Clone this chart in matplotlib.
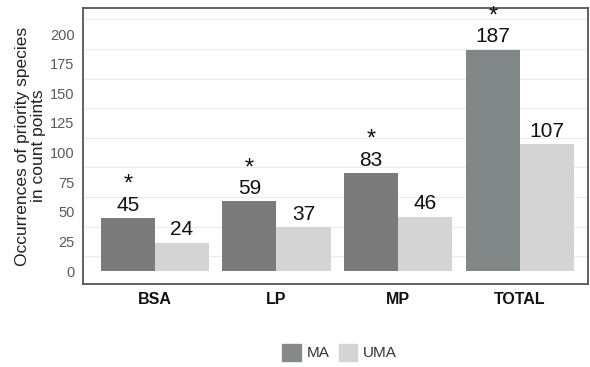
import matplotlib
matplotlib.use("Agg")
import matplotlib.pyplot as plt
from matplotlib.patches import Patch
import numpy as np

plt.rcParams['font.family'] = ['Liberation Sans', 'DejaVu Sans']

# data
groups = ['BSA', 'LP', 'MP', 'TOTAL']
ma = [45, 59, 83, 187]
uma = [24, 37, 46, 107]
signif = [True, True, True, True]   # asterisk over MA bar

ma_colors = ['#7b7b7b', '#7b7b7b', '#7b7b7b', '#808786']
uma_color = '#d4d4d4'

fig = plt.figure(figsize=(5.9, 3.67), dpi=100)
ax = fig.add_axes([0.1407, 0.226, 0.8559, 0.752])

x = np.arange(len(groups))
w = 0.445
ax.bar(x - w/2, ma, width=w, color=ma_colors, zorder=2)
ax.bar(x + w/2, uma, width=w, color=uma_color, zorder=2)

# value labels + asterisks
for i in range(len(groups)):
    ax.text(x[i] - w/2, ma[i] + 6, str(ma[i]), ha='center', va='baseline',
            fontsize=15, color='#111111')
    if signif[i]:
        ax.text(x[i] - w/2, ma[i] + 18.5, '*', ha='center', va='bottom',
                fontsize=17, color='#111111')
    ax.text(x[i] + w/2, uma[i] + 6, str(uma[i]), ha='center', va='baseline',
            fontsize=15, color='#111111')

ax.set_xlim(-0.59, 3.56)
ax.set_ylim(-11, 222)
ax.set_yticks(np.arange(0, 201, 25))
ax.set_yticks(np.arange(12.5, 220, 25), minor=True)
ax.yaxis.grid(True, which='minor', color='#ebebeb', linewidth=0.8, zorder=0)
ax.tick_params(axis='y', which='both', length=0, labelsize=10.5, labelcolor='#5a5a5a', pad=6)
ax.set_xticks(x)
ax.set_xticklabels(groups, fontsize=11.5, fontweight='bold', color='#111111')
ax.tick_params(axis='x', length=0, pad=6)

for s in ax.spines.values():
    s.set_color('#555555')
    s.set_linewidth(1.3)

ax.set_ylabel('Occurrences of priority species\nin count points', fontsize=12.5,
              color='#222222', linespacing=1.1, labelpad=3)

handles = [Patch(color='#858a89', label='MA'), Patch(color=uma_color, label='UMA')]
fig.legend(handles=handles, loc='center', bbox_to_anchor=(0.576, 0.04), ncol=2,
           frameon=False, fontsize=11, handlelength=1.2, handleheight=1.3,
           handletextpad=0.4, columnspacing=0.6, labelcolor='#333333')

fig.savefig('out.png', dpi=100)
